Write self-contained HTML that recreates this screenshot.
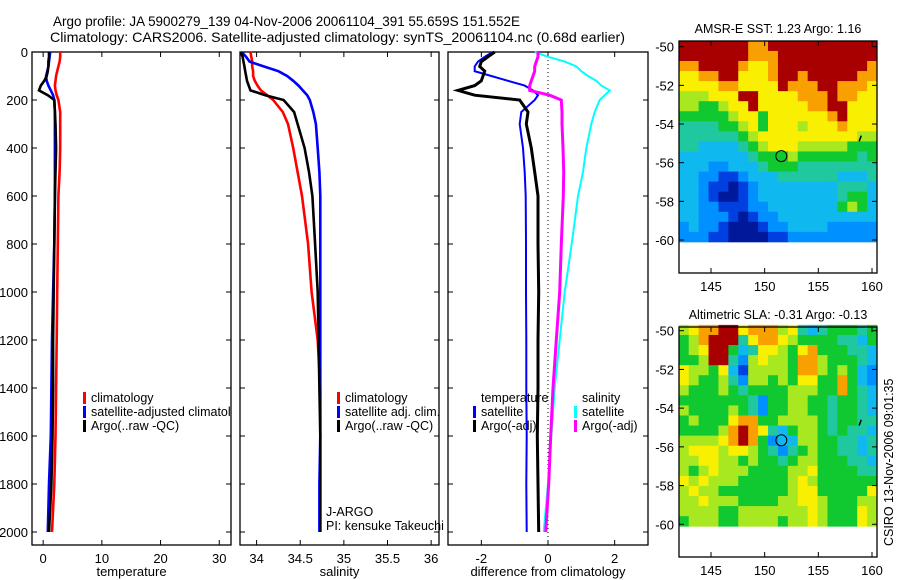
<!DOCTYPE html>
<html><head><meta charset="utf-8">
<style>
html,body{margin:0;padding:0;background:#fff;}
svg{display:block;font-family:"Liberation Sans",sans-serif;}
text{fill:#000;}
</style></head>
<body>
<svg id="fig" width="900" height="580" viewBox="0 0 900 580" xmlns="http://www.w3.org/2000/svg">
<defs><clipPath id="clipT"><rect x="32" y="52" width="199" height="493"/></clipPath></defs>
<rect width="900" height="580" fill="#fff"/>
<text x="53" y="26" font-size="14" textLength="467" lengthAdjust="spacingAndGlyphs">Argo profile: JA 5900279_139 04-Nov-2006 20061104_391 55.659S 151.552E</text>
<text x="50" y="42" font-size="14" textLength="575" lengthAdjust="spacingAndGlyphs">Climatology: CARS2006. Satellite-adjusted climatology: synTS_20061104.nc (0.68d earlier)</text>
<g id="layer"></g>
</svg>
<script>
// ---------- data ----------
const depths = [0,20,40,60,80,100,120,140,160,180,200,250,300,400,500,600,800,1000,1200,1400,1600,1800,2000];
// temperature panel
const tempClim = [2.9,2.9,2.8,2.6,2.4,2.2,2.1,2.0,2.1,2.3,2.6,2.9,2.9,2.9,2.8,2.6,2.5,2.4,2.3,2.2,2.1,1.9,1.5];
const tempSat  = [1.2,1.1,1.0,0.9,0.7,0.5,0.6,0.9,1.3,1.7,1.9,2.0,2.0,2.0,2.0,2.0,1.9,1.7,1.5,1.4,1.3,1.0,0.8];
const tempArgo = [1.0,1.0,0.9,0.9,0.8,0.6,0.2,-0.4,-0.7,0.8,1.9,2.0,2.1,2.2,2.1,2.0,1.9,1.8,1.7,1.7,1.6,1.4,1.0];
// salinity panel
const salClim = [33.93,33.94,33.95,33.95,33.96,33.96,33.98,34.01,34.05,34.12,34.19,34.30,34.36,34.42,34.47,34.52,34.59,34.63,34.70,34.73,34.73,34.73,34.73];
const salSat  = [33.83,33.88,33.92,34.08,34.25,34.35,34.42,34.48,34.53,34.58,34.61,34.65,34.68,34.70,34.72,34.73,34.73,34.73,34.73,34.73,34.73,34.72,34.72];
const salArgo = [33.82,33.84,33.85,33.86,33.87,33.88,33.89,33.91,33.93,34.10,34.31,34.43,34.47,34.55,34.60,34.64,34.67,34.70,34.71,34.72,34.73,34.73,34.73];
// difference panel
const diffTSat  = [-1.66,-1.9,-2.1,-2.2,-2.2,-1.7,-1.2,-0.7,-0.45,-0.3,-0.4,-0.8,-0.85,-0.75,-0.7,-0.67,-0.66,-0.66,-0.65,-0.65,-0.64,-0.65,-0.64];
const diffTArgo = [-1.6,-1.8,-2.0,-2.05,-1.9,-1.95,-2.0,-2.2,-2.7,-2.2,-0.85,-0.6,-0.65,-0.5,-0.4,-0.3,-0.3,-0.28,-0.3,-0.3,-0.32,-0.3,-0.28];
const diffSSat  = [-0.4,0.0,0.5,0.85,1.0,1.2,1.45,1.6,1.85,1.7,1.55,1.4,1.3,1.15,1.05,0.9,0.71,0.5,0.35,0.2,0.1,0.0,-0.13];
const diffSArgo = [-0.3,-0.3,-0.35,-0.4,-0.4,-0.45,-0.5,-0.55,-0.55,0.05,0.4,0.42,0.42,0.45,0.47,0.46,0.4,0.35,0.25,0.15,0.08,0.02,-0.07];
// tick labels
const depthTicks = [0,200,400,600,800,1000,1200,1400,1600,1800,2000];
const tempTicks = [0,10,20,30];
const salTicks = [34,34.5,35,35.5,36];
const diffTicks = [-2,0,2];
const lonTicks = [145,150,155,160];
const latTicks = [-50,-52,-54,-56,-58,-60];
// maps: digits 0-9 index into a jet-like colormap
const sstGrid = [
"99999998899999999999","99999998889999999999","88999987789999999998","77889977789989999988",
"77778877779888998887","66677799777788898877","66556779777778899777","55555677577777789777",
"44445567577767778777","44444456777777777766","44333345677766666555","33333334555655555545",
"33322333455544444444","33221123334444443334","33211012333333334443","33210012333333334553",
"33221112233333335653","33222101223333333333","23221000122333322222","22211000011222222222"];
const slaGrid = [
"67889978886743455545","56899947887655554435","56799534776578555443","55699426766588655543",
"76657316666588656532","76556426656577558532","65556545555666558543","55555554255665545543",
"65555654255665545543","56555788556666545544","55556898743566545443","66667898523366554434",
"67776776542456554434","66776656554566555443","65676665555667555544","76766655555676555555",
"67665555555677555557","66766655556677655566","66665566666667655576","56665566665667655576"];
const jet = ["#00189a","#0040e0","#0090ff","#10b8f0","#20c8a0","#10c830","#a8e820","#f8f000","#f8a000","#a80000"];

// ---------- helpers ----------
const NS="http://www.w3.org/2000/svg";
const layer=document.getElementById('layer');
function mk(tag,attrs,parent){const e=document.createElementNS(NS,tag);for(const k in attrs)e.setAttribute(k,attrs[k]);(parent||layer).appendChild(e);return e;}
function txt(s,x,y,anchor,size,parent){const t=mk('text',{x:x,y:y,'text-anchor':anchor||'start','font-size':size||13},parent);t.textContent=s;return t;}
const yDepth=d=>52+d*0.24;

function profilePanel(name,x0,x1,vmin,vmax,ticks,label,showDepthLabels){
  const g=mk('g',{});
  
  
  const sx=v=>x0+(v-vmin)/(vmax-vmin)*(x1-x0);
  mk('rect',{x:x0,y:52,width:x1-x0,height:493,fill:'none',stroke:'#000','stroke-width':1.3},g);
  depthTicks.forEach(d=>{
    const y=yDepth(d);
    mk('line',{x1:x0,y1:y,x2:x0+5,y2:y,stroke:'#000'},g);
    mk('line',{x1:x1,y1:y,x2:x1-5,y2:y,stroke:'#000'},g);
    if(showDepthLabels){const t=txt(String(d),28,y+5,'end',13,g);
      
      }
  });
  ticks.forEach(v=>{
    const x=sx(v);
    mk('line',{x1:x,y1:545,x2:x,y2:540,stroke:'#000'},g);
    mk('line',{x1:x,y1:52,x2:x,y2:57,stroke:'#000'},g);
    const t=txt(String(v),x,563,'middle',13,g);
    
    
  });
  const lt=txt(label,(x0+x1)/2,576,'middle',13,g);
  
  
  return {g,sx};
}
function series(p,vals,color,name,w){
  const pts=vals.map((v,i)=>p.sx(v).toFixed(1)+','+yDepth(depths[i]).toFixed(1)).join(' ');
  const l=mk('polyline',{points:pts,fill:'none',stroke:color,'stroke-width':w||2.6,'stroke-linejoin':'miter'},p.g);
  
  
}
function legendEntry(g,x,y,color,label){
  const e=mk('g',{},g);
  
  
  if(color) mk('rect',{x:x,y:y-10,width:3,height:12,fill:color},e);
  txt(label,x+8,y,'start',12.5,e);
  return e;
}

// ---------- profile panels ----------
const pT=profilePanel('temperature-panel',32,231,-1.9,32,tempTicks,'temperature',true);
series(pT,tempClim,'#ff0000','temp-climatology-line');
series(pT,tempSat,'#0000ff','temp-satellite-line');
series(pT,tempArgo,'#000000','temp-argo-line');
legendEntry(pT.g,83,402,'#ff0000','climatology');
legendEntry(pT.g,83,416,'#0000ff','satellite-adjusted climatology').setAttribute('clip-path','url(#clipT)');
legendEntry(pT.g,83,430,'#000000','Argo(..raw -QC)');

const pS=profilePanel('salinity-panel',240,439,33.81,36.09,salTicks,'salinity',false);
series(pS,salClim,'#ff0000','sal-climatology-line');
series(pS,salSat,'#0000ff','sal-satellite-line');
series(pS,salArgo,'#000000','sal-argo-line');
legendEntry(pS.g,337,402,'#ff0000','climatology');
legendEntry(pS.g,337,416,'#0000ff','satellite adj. clim.');
legendEntry(pS.g,337,430,'#000000','Argo(..raw -QC)');
txt('J-ARGO',326,516,'start',12.5,pS.g);
txt('PI: kensuke Takeuchi',326,530,'start',12.5,pS.g);

const pD=profilePanel('difference-panel',448,648,-3,3,diffTicks,'difference from climatology',false);
mk('line',{x1:pD.sx(0),y1:52,x2:pD.sx(0),y2:545,stroke:'#000','stroke-dasharray':'1,3'},pD.g);
series(pD,diffTSat,'#0000ff','diff-temp-satellite-line',2);
series(pD,diffTArgo,'#000000','diff-temp-argo-line',3);
series(pD,diffSSat,'#00ffff','diff-sal-satellite-line',2);
series(pD,diffSArgo,'#ff00ff','diff-sal-argo-line',3);
txt('temperature',481,402,'start',12.5,pD.g);
legendEntry(pD.g,473,416,'#0000ff','satellite');
legendEntry(pD.g,473,430,'#000000','Argo(-adj)');
txt('salinity',582,402,'start',12.5,pD.g);
legendEntry(pD.g,574,416,'#00ffff','satellite');
legendEntry(pD.g,574,430,'#ff00ff','Argo(-adj)');

// ---------- maps ----------
function mapPanel(name,title,grid,top,lat50y,lat60y,frameBottom){
  const g=mk('g',{});
  
  
  const x0=679,x1=877;
  const lon=v=>711+(v-145)*(872-711)/15;
  const lat=v=>lat50y+(-50-v)*(lat60y-lat50y)/10;
  const lonMin=142.0,lonMax=160.47,latTop=-49.7,latBot=-60.1;
  const rows=grid.length,cols=grid[0].length;
  const dLon=(lonMax-lonMin)/cols,dLat=(latTop-latBot)/rows;
  for(let r=0;r<rows;r++)for(let c=0;c<cols;c++){
    const xa=lon(lonMin+c*dLon),xb=lon(lonMin+(c+1)*dLon);
    const ya=lat(latTop-r*dLat),yb=lat(latTop-(r+1)*dLat);
    const cell=mk('rect',{x:xa.toFixed(2),y:ya.toFixed(2),width:(xb-xa+0.4).toFixed(2),height:(yb-ya+0.4).toFixed(2),fill:jet[+grid[r][c]]},g);
    
    
  }
  mk('rect',{x:x0,y:top,width:x1-x0,height:frameBottom-top,fill:'none',stroke:'#000','stroke-width':1.3},g);
  latTicks.forEach(v=>{const y=lat(v);
    mk('line',{x1:x0,y1:y,x2:x0+5,y2:y,stroke:'#000'},g);
    mk('line',{x1:x1,y1:y,x2:x1-5,y2:y,stroke:'#000'},g);
    const t=txt(String(v),674,y+5,'end',13,g);
    
    });
  lonTicks.forEach(v=>{const x=lon(v);
    mk('line',{x1:x,y1:frameBottom,x2:x,y2:frameBottom-5,stroke:'#000'},g);
    mk('line',{x1:x,y1:top,x2:x,y2:top+5,stroke:'#000'},g);
    const t=txt(String(v),x,frameBottom+18,'middle',13,g);
    
    });
  const fx=lon(151.552),fy=lat(-55.659);
  const m=mk('circle',{cx:fx,cy:fy,r:5.5,fill:'none',stroke:'#000','stroke-width':1},g);
  
  
  mk('line',{x1:lon(158.8),y1:lat(-54.9),x2:lon(159),y2:lat(-54.6),stroke:'#000','stroke-width':1.5},g);
  const tt=txt(title,778,top-8,'middle',12.5,g);
  
  
}
mapPanel('sst-map','AMSR-E SST: 1.23 Argo: 1.16',sstGrid,41,46.7,240,273);
mapPanel('sla-map','Altimetric SLA: -0.31 Argo: -0.13',slaGrid,327,330.7,524.3,557);
const stamp=txt('CSIRO 13-Nov-2006 09:01:35',0,0,'start',12.5);
stamp.setAttribute('transform','translate(893,546) rotate(-90)');


</script>
</body></html>
